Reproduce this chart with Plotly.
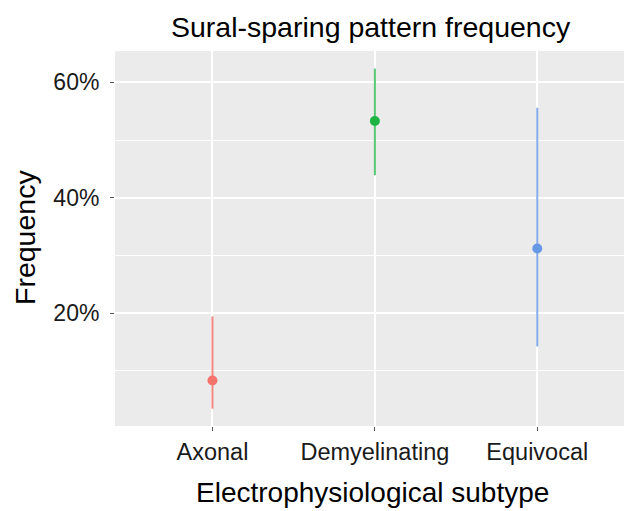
import plotly.graph_objects as go

categories = ["Axonal", "Demyelinating", "Equivocal"]
freq = [8.3, 53.3, 31.2]
ci_low = [3.4, 43.9, 14.2]
ci_high = [19.4, 62.4, 55.6]
colors = ["#F4736C", "#1DB444", "#6698E6"]
line_colors = ["rgba(244,115,108,0.85)", "rgba(29,180,68,0.75)", "rgba(102,152,230,0.8)"]
y_ticks = [20, 40, 60]
y_ticklabels = ["20%", "40%", "60%"]

FONT = "Liberation Sans, Arial, sans-serif"

fig = go.Figure()
for i, cat in enumerate(categories):
    fig.add_trace(go.Scatter(
        x=[i], y=[freq[i]], mode="markers",
        marker=dict(color=colors[i], size=10, line=dict(width=0)),
        error_y=dict(type="data", symmetric=False,
                     array=[ci_high[i] - freq[i]],
                     arrayminus=[freq[i] - ci_low[i]],
                     color=line_colors[i], thickness=2, width=0),
        showlegend=False, hoverinfo="skip"))

W, H = 624, 511
ml, mr, mt, mb = 115, 0, 51, 85
ph = H - mt - mb

def py(ypx):
    return (H - mb - ypx) / ph

fig.update_layout(
    width=W, height=H,
    margin=dict(l=ml, r=mr, t=mt, b=mb),
    paper_bgcolor="white", plot_bgcolor="#EBEBEB",
    font=dict(family=FONT, color="black"),
    xaxis=dict(
        range=[-0.6, 2.534], tickmode="array", tickvals=[0, 1, 2],
        ticktext=categories, showgrid=True, gridcolor="white", gridwidth=1.5,
        zeroline=False, showline=False, ticks="outside", ticklen=4,
        tickcolor="#555555", tickwidth=1, tickfont=dict(size=23.5, family=FONT, color="#1a1a1a"),
        ticklabelstandoff=1),
    yaxis=dict(
        range=[0.4, 65.45], tickmode="array", tickvals=y_ticks, ticktext=y_ticklabels,
        showgrid=True, gridcolor="white", gridwidth=1.5, zeroline=False, showline=False,
        ticks="outside", ticklen=4, tickcolor="#555555", tickwidth=1,
        tickfont=dict(size=23, family=FONT, color="#1a1a1a"), ticklabelstandoff=6,
        minor=dict(tickvals=[10, 30, 50], showgrid=True, gridcolor="white", gridwidth=0.7, ticks="")),
    annotations=[
        dict(text="Sural-sparing pattern frequency", xref="paper", yref="paper",
             x=(371 - ml) / (W - ml), y=py(27), xanchor="center", yanchor="middle",
             showarrow=False, font=dict(size=28.5, family=FONT, color="black")),
        dict(text="Electrophysiological subtype", xref="paper", yref="paper",
             x=(372 - ml) / (W - ml), y=py(492), xanchor="center", yanchor="middle",
             showarrow=False, font=dict(size=28, family=FONT, color="black")),
        dict(text="Frequency", xref="paper", yref="paper",
             x=(25 - ml) / (W - ml), y=py(238), xanchor="center", yanchor="middle",
             textangle=-90, showarrow=False, font=dict(size=28.5, family=FONT, color="black")),
    ],
)

fig.write_html("out.html", config={"displayModeBar": False})

# remove default page margin so the figure sits at the window origin
with open("out.html", "r", encoding="utf-8") as f:
    html = f.read()
html = html.replace("<body>", '<body style="margin:0;padding:0;overflow:hidden">', 1)
with open("out.html", "w", encoding="utf-8") as f:
    f.write(html)
